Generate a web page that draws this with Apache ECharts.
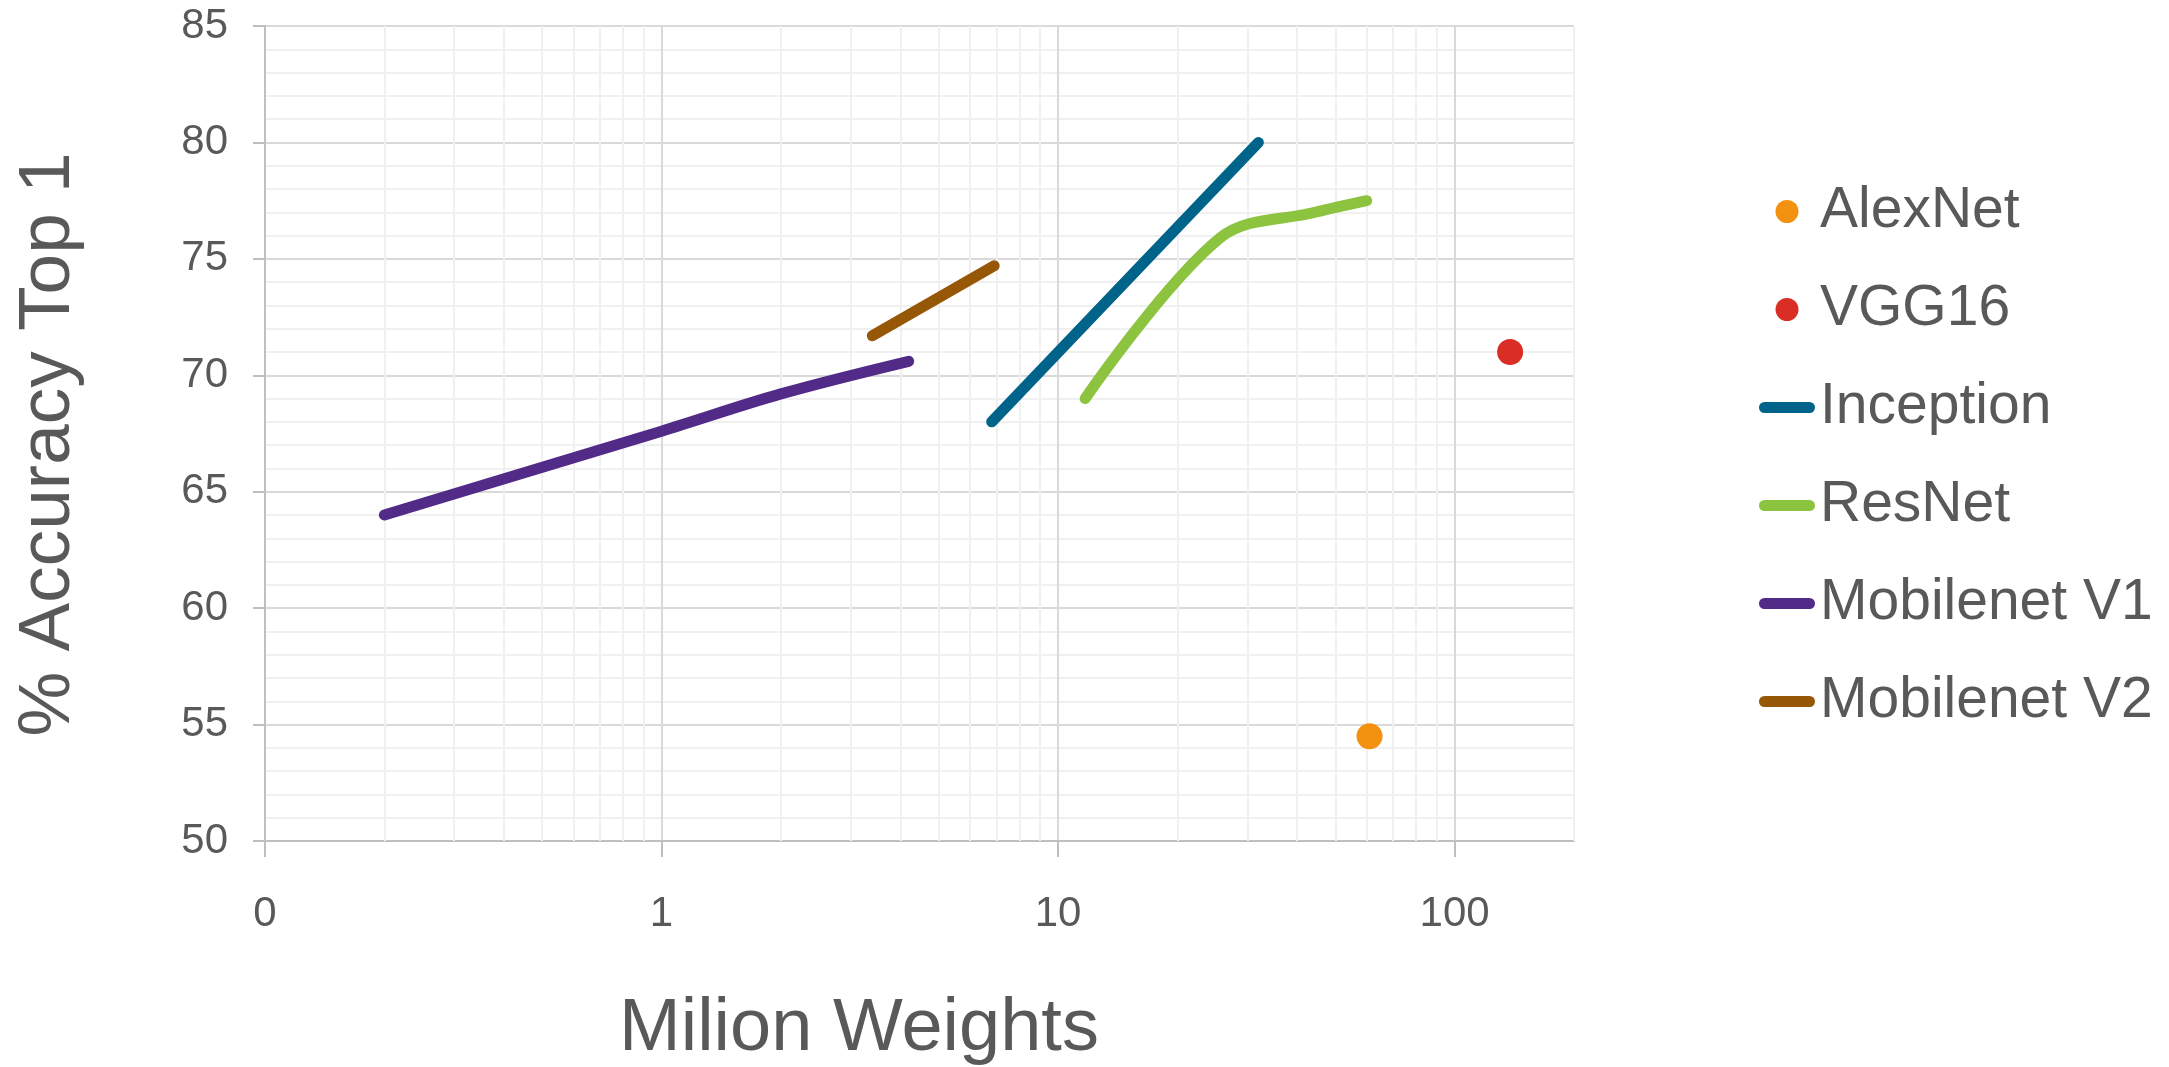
<!DOCTYPE html>
<html>
<head>
<meta charset="utf-8">
<title>Accuracy vs weights</title>
<script src="https://cdn.jsdelivr.net/npm/echarts@6/dist/echarts.min.js"></script>
<style>
  html, body { margin: 0; padding: 0; background: #fff; }
  #chart { width: 2169px; height: 1067px; }
</style>
</head>
<body>
<div id="chart"></div>
<script>
// values (x = million weights, y = % top-1 accuracy)
const seriesNames = ['AlexNet', 'VGG16', 'Inception', 'ResNet', 'Mobilenet V1', 'Mobilenet V2'];
const alexNet = [[61, 54.5]];
const vgg16 = [[138, 71.0]];
const inception = [[6.8, 68.0], [32, 80.0]];
const resNet = [[11.7, 69.0], [25.6, 75.9], [44.5, 77.0], [60, 77.5]];
const mobilenetV1 = [[0.2, 64.0], [1.0, 67.6], [2.0, 69.2], [4.2, 70.6]];
const mobilenetV2 = [[3.4, 71.7], [6.9, 74.7]];

const xTickValues = [0.1, 1, 10, 100];
const xTickLabels = ['0', '1', '10', '100'];
const xMinorValues = [0.2, 0.3, 0.4, 0.5, 0.6, 0.7, 0.8, 0.9, 2, 3, 4, 5, 6, 7, 8, 9,
  20, 30, 40, 50, 60, 70, 80, 90, 200];

const colors = ['#F39110', '#D92D25', '#00638A', '#8CC43F', '#522A88', '#965706'];
const font = "'Liberation Sans', Arial, sans-serif";
const textColor = '#595959';
// rounded bar used as the legend mark of the line series
const barIcon = 'path://M5.5,0L50.5,0A5.5,5.5,0,0,1,50.5,11L5.5,11A5.5,5.5,0,0,1,5.5,0Z';

const chart = echarts.init(document.getElementById('chart'), null, { renderer: 'canvas' });

const lineSeries = (name, data, color) => ({
  name,
  type: 'line',
  data,
  smooth: 0.35,
  symbol: 'none',
  showSymbol: false,
  color,
  itemStyle: { color },
  lineStyle: { color, width: 11, cap: 'round', join: 'round' },
  z: 3,
});

const dotSeries = (name, data, color) => ({
  name,
  type: 'scatter',
  data,
  symbolSize: 26,
  color,
  itemStyle: { color, opacity: 1 },
  z: 3,
});

const option = {
  animation: false,
  backgroundColor: '#fff',
  textStyle: { fontFamily: font },
  grid: { left: 265, right: 595, top: 26, bottom: 226, containLabel: false, outerBoundsMode: 'none' },
  legend: {
    orient: 'vertical',
    left: 1754,
    top: 178,
    itemWidth: 56,
    itemHeight: 23,
    itemGap: 41,
    selectedMode: false,
    itemStyle: { borderWidth: 0, opacity: 1 },
    textStyle: { fontSize: 57, lineHeight: 57, color: textColor, fontFamily: font },
    data: seriesNames.map((name, i) => ({ name, icon: i < 2 ? 'circle' : barIcon })),
  },
  xAxis: {
    type: 'log',
    logBase: 10,
    min: 0.1,
    max: 200,
    name: 'Milion Weights',
    nameLocation: 'middle',
    nameGap: 152,
    nameTextStyle: { fontSize: 74, color: textColor, fontFamily: font, padding: [0, 121, 0, 0] },
    axisLine: { show: true, onZero: false, lineStyle: { color: '#BFBFBF', width: 2 } },
    axisTick: { show: true, length: 16, lineStyle: { color: '#BFBFBF', width: 2 } },
    axisLabel: {
      fontSize: 42,
      color: textColor,
      fontFamily: font,
      margin: 52,
      showMaxLabel: false,
      formatter: (v) => {
        const i = xTickValues.findIndex((t) => Math.abs(Math.log10(t) - Math.log10(v)) < 1e-6);
        return i < 0 ? '' : xTickLabels[i];
      },
    },
    splitLine: {
      show: true,
      lineStyle: { color: ['#D9D9D9', '#D9D9D9', '#D9D9D9', '#D9D9D9', '#F0F0F0'], width: 2 },
    },
  },
  yAxis: {
    type: 'value',
    min: 50,
    max: 85,
    interval: 5,
    name: '% Accuracy Top 1',
    nameLocation: 'middle',
    nameRotate: 90,
    nameGap: 180,
    nameTextStyle: { fontSize: 73, color: textColor, fontFamily: font, padding: [0, 22, 0, 0] },
    axisLine: { show: true, lineStyle: { color: '#BFBFBF', width: 2 } },
    axisTick: { show: true, length: 12, lineStyle: { color: '#BFBFBF', width: 2 } },
    axisLabel: { fontSize: 42, color: textColor, fontFamily: font, margin: 37 },
    splitLine: { show: true, lineStyle: { color: '#D9D9D9', width: 2 } },
    minorTick: { show: false, splitNumber: 5 },
    minorSplitLine: { show: true, lineStyle: { color: '#F0F0F0', width: 2 } },
  },
  series: [
    // minor vertical grid lines of the log axis (2..9 in every decade)
    {
      name: 'minor-grid',
      type: 'line',
      data: [],
      silent: true,
      z: 1,
      markLine: {
        silent: true,
        z: 1,
        animation: false,
        symbol: ['none', 'none'],
        label: { show: false },
        emphasis: { disabled: true },
        lineStyle: { color: '#F0F0F0', width: 2, type: 'solid' },
        data: xMinorValues.map((v) => ({ xAxis: v })),
      },
    },
    dotSeries(seriesNames[0], alexNet, colors[0]),
    dotSeries(seriesNames[1], vgg16, colors[1]),
    lineSeries(seriesNames[2], inception, colors[2]),
    lineSeries(seriesNames[3], resNet, colors[3]),
    lineSeries(seriesNames[4], mobilenetV1, colors[4]),
    lineSeries(seriesNames[5], mobilenetV2, colors[5]),
  ],
};

chart.setOption(option);
</script>
</body>
</html>
